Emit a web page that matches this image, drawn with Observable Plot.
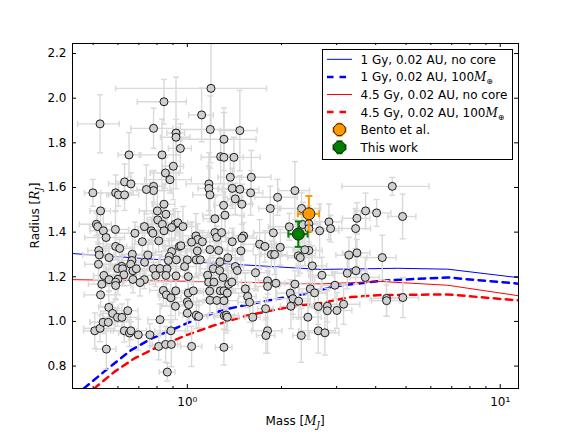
<!DOCTYPE html>
<html><head><meta charset="utf-8">
<script src="https://cdn.jsdelivr.net/npm/d3@7"></script>
<script src="https://cdn.jsdelivr.net/npm/@observablehq/plot@0.6"></script>
<style>body{margin:0;background:#fff}#chart{width:576px;height:432px}</style>
</head><body><div id="chart"></div>
<script>
// Known planets: mass [M_J], radius [R_J] and their errors
const mass = [
0.526,0.842,1.190,1.111,1.184,1.472,0.780,0.920,0.920,1.309,
0.950,0.651,0.830,1.278,1.309,1.409,0.902,0.851,0.880,1.372,
1.601,0.630,0.660,1.172,1.172,0.780,0.780,0.740,0.499,0.590,
0.602,0.630,1.181,1.392,1.472,1.593,1.943,2.207,1.423,1.494,
1.306,1.319,1.841,2.318,0.842,0.854,0.802,0.804,0.832,0.913,
0.933,0.968,0.891,0.528,0.512,0.517,0.539,0.550,0.589,0.680,
0.729,0.767,0.776,0.810,0.718,0.590,0.608,0.521,0.523,0.562,
0.748,0.667,0.665,0.659,0.617,0.599,0.621,0.520,0.541,0.670,
0.670,0.627,0.600,0.729,0.706,0.562,0.590,0.533,0.590,0.528,
0.561,0.577,0.598,0.618,0.645,0.506,0.526,0.538,0.559,0.551,
0.629,0.653,0.660,0.697,0.759,0.810,0.852,0.889,0.886,0.818,
0.916,1.000,1.000,1.032,1.068,1.087,0.863,0.687,0.730,0.779,
0.792,0.818,0.861,0.838,0.857,0.918,0.886,1.007,1.010,1.045,
1.068,1.076,1.065,1.079,1.117,1.100,1.032,1.000,0.943,0.920,
0.922,1.007,0.891,0.876,0.980,0.854,0.954,0.842,0.870,1.161,
1.170,1.178,1.211,1.216,1.181,1.181,1.225,1.225,1.259,1.241,
1.287,1.271,1.268,1.275,1.243,1.309,1.309,1.313,1.332,1.342,
1.355,1.300,1.348,1.392,1.423,1.444,1.483,1.513,1.494,1.388,
1.309,1.342,1.532,1.559,1.581,1.620,1.653,1.702,1.770,1.805,
1.805,1.779,1.805,1.783,1.883,1.855,1.901,1.919,1.982,2.133,
2.143,2.175,2.268,2.207,2.263,2.296,2.313,2.428,2.471,2.508,
2.551,2.621,2.621,2.647,2.446,2.375,2.118,2.341,2.446,4.519,
3.713,4.026,4.875,3.483,2.835,2.870,3.450,2.446,3.483,3.284,
4.198,3.457,3.245,2.692,3.705,2.962,2.802,2.802,3.006,3.158,
4.333,4.333,4.885,2.752];
const radius = [
1.885,1.984,2.044,1.925,1.860,1.855,1.865,1.844,1.825,1.816,
1.775,1.746,1.746,1.738,1.735,1.735,1.695,1.665,1.635,1.646,
1.646,1.625,1.616,1.616,1.596,1.605,1.586,1.591,1.576,1.576,
1.567,1.567,1.567,1.596,1.592,1.576,1.556,1.586,1.549,1.525,
1.520,1.476,1.506,1.506,1.525,1.480,1.495,1.455,1.435,1.435,
1.442,1.425,1.421,1.495,1.435,1.425,1.406,1.376,1.412,1.395,
1.425,1.406,1.395,1.361,1.357,1.336,1.327,1.318,1.298,1.286,
1.297,1.301,1.273,1.256,1.247,1.237,1.236,1.256,1.206,1.227,
1.188,1.209,1.189,1.187,1.174,1.187,1.176,1.167,1.161,1.119,
1.063,1.036,1.018,1.018,1.048,0.958,0.969,0.996,0.996,0.876,
0.958,0.948,0.958,0.940,0.940,0.888,0.897,0.897,0.958,1.008,
1.068,1.088,1.037,0.888,1.028,1.022,0.773,1.236,1.265,1.236,
1.206,1.237,1.236,1.139,1.119,1.137,1.106,1.127,1.075,1.137,
1.276,1.316,1.383,1.367,1.357,1.276,1.355,1.276,1.336,1.204,
1.276,1.201,1.313,1.291,1.246,1.206,1.339,1.406,1.273,1.207,
1.176,1.136,1.236,1.176,1.095,1.322,1.460,1.398,1.318,1.377,
1.398,1.267,1.228,1.137,1.094,1.137,1.093,1.026,1.028,1.127,
1.166,1.197,1.285,1.357,1.246,1.228,1.316,1.383,1.373,1.176,
0.884,1.019,1.146,1.112,1.086,1.019,1.218,1.346,1.336,1.182,
1.157,1.057,0.958,0.937,1.397,1.300,1.300,1.171,1.332,1.127,
1.068,1.102,1.091,1.167,1.294,1.286,0.937,1.019,1.146,1.249,
1.128,0.958,1.067,1.406,1.318,1.321,1.424,1.434,1.437,1.605,
1.495,1.486,1.470,1.462,1.446,1.416,1.416,1.416,1.307,1.297,
1.286,1.227,1.216,1.207,1.197,1.162,1.068,1.048,1.049,1.077,
1.103,1.093,1.107,0.949];
const massErr = [
0.08,0.15,0.60,0.10,0.25,0.20,0.12,0.06,0.10,0.35,
0.08,0.05,0.12,0.10,0.20,0.30,0.07,0.09,0.15,0.12,
0.25,0.04,0.10,0.18,0.09,0.06,0.11,0.05,0.03,0.08,
0.05,0.07,0.14,0.10,0.22,0.15,0.30,0.25,0.08,0.12,
0.09,0.20,0.15,0.35,0.07,0.05,0.10,0.06,0.08,0.12,
0.07,0.10,0.05,0.04,0.06,0.03,0.05,0.08,0.06,0.09,
0.05,0.07,0.10,0.06,0.04,0.05,0.07,0.04,0.06,0.03,
0.08,0.05,0.06,0.09,0.04,0.05,0.07,0.05,0.04,0.06,
0.05,0.08,0.04,0.07,0.05,0.06,0.03,0.05,0.07,0.06,
0.04,0.05,0.06,0.08,0.05,0.04,0.06,0.05,0.07,0.04,
0.06,0.05,0.08,0.07,0.06,0.05,0.08,0.06,0.10,0.07,
0.09,0.12,0.06,0.08,0.10,0.07,0.05,0.06,0.08,0.05,
0.07,0.06,0.09,0.08,0.05,0.10,0.07,0.12,0.08,0.06,
0.10,0.09,0.15,0.07,0.12,0.08,0.06,0.11,0.09,0.07,
0.05,0.08,0.10,0.06,0.09,0.07,0.12,0.08,0.06,0.10,
0.14,0.09,0.12,0.08,0.11,0.16,0.10,0.13,0.20,0.09,
0.12,0.10,0.08,0.15,0.11,0.09,0.14,0.10,0.12,0.18,
0.10,0.13,0.16,0.12,0.09,0.20,0.14,0.11,0.17,0.10,
0.08,0.12,0.15,0.10,0.13,0.09,0.18,0.22,0.14,0.12,
0.16,0.10,0.20,0.12,0.25,0.15,0.18,0.13,0.30,0.20,
0.16,0.25,0.18,0.22,0.30,0.20,0.14,0.25,0.19,0.28,
0.22,0.35,0.18,0.40,0.25,0.20,0.30,0.26,0.22,1.40,
0.30,0.45,0.50,0.35,0.28,0.25,0.40,0.22,0.35,0.30,
0.45,0.30,0.35,0.25,0.40,0.28,0.30,0.22,0.35,0.40,
0.50,0.45,0.60,0.30];
const radiusErr = [
0.13,0.10,0.20,0.12,0.15,0.18,0.09,0.25,0.08,0.14,
0.11,0.10,0.16,0.12,0.20,0.09,0.15,0.07,0.06,0.10,
0.12,0.08,0.05,0.14,0.10,0.07,0.09,0.11,0.06,0.08,
0.05,0.07,0.12,0.09,0.06,0.10,0.08,0.13,0.07,0.09,
0.06,0.08,0.10,0.07,0.09,0.05,0.11,0.06,0.08,0.07,
0.05,0.09,0.06,0.08,0.05,0.07,0.10,0.06,0.08,0.05,
0.07,0.06,0.09,0.05,0.08,0.06,0.04,0.07,0.05,0.06,
0.05,0.08,0.06,0.04,0.07,0.05,0.06,0.09,0.05,0.04,
0.06,0.05,0.07,0.04,0.06,0.05,0.08,0.04,0.06,0.05,
0.07,0.05,0.04,0.06,0.05,0.08,0.06,0.05,0.04,0.09,
0.05,0.06,0.04,0.07,0.05,0.06,0.08,0.10,0.05,0.07,
0.06,0.05,0.08,0.09,0.06,0.05,0.04,0.06,0.05,0.07,
0.05,0.06,0.04,0.07,0.05,0.06,0.08,0.05,0.07,0.06,
0.08,0.06,0.10,0.07,0.05,0.06,0.09,0.05,0.07,0.06,
0.05,0.07,0.06,0.08,0.05,0.06,0.07,0.09,0.05,0.06,
0.07,0.05,0.06,0.08,0.06,0.07,0.10,0.06,0.08,0.05,
0.07,0.06,0.05,0.08,0.06,0.07,0.05,0.06,0.08,0.06,
0.05,0.07,0.09,0.06,0.08,0.05,0.07,0.06,0.10,0.05,
0.08,0.06,0.07,0.05,0.09,0.06,0.08,0.11,0.07,0.06,
0.07,0.05,0.10,0.08,0.12,0.06,0.09,0.07,0.08,0.06,
0.10,0.07,0.08,0.06,0.09,0.07,0.12,0.10,0.08,0.09,
0.07,0.10,0.08,0.12,0.09,0.07,0.06,0.10,0.08,0.04,
0.08,0.06,0.10,0.07,0.08,0.06,0.09,0.07,0.06,0.08,
0.10,0.06,0.07,0.08,0.09,0.06,0.07,0.10,0.08,0.09,
0.08,0.07,0.09,0.10];

// Model curves
const m1GyNoCore = [0.43, 1.0, 2.67, 4.7, 6.8, 11.44];
const r1GyNoCore = [1.304, 1.268, 1.233, 1.238, 1.234, 1.196];
const m1GyCore = [0.467, 0.542, 0.659, 0.764, 0.906, 1.103, 1.342, 1.629, 2.0, 2.5, 2.94, 4.25, 6.77, 11.44];
const r1GyCore = [0.70, 0.775, 0.87, 0.922, 0.966, 1.019, 1.056, 1.081, 1.105, 1.128, 1.157, 1.183, 1.197, 1.169];
const m45GyNoCore = [0.43, 1.0, 2.67, 4.14, 6.8, 11.44];
const r45GyNoCore = [1.187, 1.180, 1.168, 1.179, 1.162, 1.115];
const m45GyCore = [0.503, 0.583, 0.675, 0.802, 1.0, 1.216, 1.555, 1.987, 2.30, 2.67, 3.32, 4.14, 6.77, 11.44];
const r45GyCore = [0.699, 0.773, 0.833, 0.885, 0.940, 0.982, 1.027, 1.057, 1.072, 1.082, 1.109, 1.118, 1.121, 1.094];

// Highlighted: Bento et al. and This work
const bentoMass = [2.446], bentoRadius = [1.482], bentoMassErr = [0.19], bentoRadiusErr = [0.08];
const thisMass = [2.263], thisRadius = [1.391], thisMassErr = [0.16], thisRadiusErr = [0.057];

const xMajor = [1, 10];
const xMinor = [0.5, 0.6, 0.7, 0.8, 0.9, 2, 3, 4, 5, 6, 7, 8, 9];
const yTicks = [0.8, 1.0, 1.2, 1.4, 1.6, 1.8, 2.0, 2.2];
const xTickLabels = ["10⁰", "10¹"];
const legendLabels = ["1 Gy, 0.02 AU, no core", "1 Gy, 0.02 AU, 100", "4.5 Gy, 0.02 AU, no core", "4.5 Gy, 0.02 AU, 100", "Bento et al.", "This work"];

const W = 576, H = 432, ML = 72, MR = 58, MT = 43, MB = 44;
const PW = W - ML - MR, PH = H - MT - MB;

const pts = mass.map((m, i) => ({m, r: radius[i], me: massErr[i], re: radiusErr[i]}));
const bento = bentoMass.map((m, i) => ({m, r: bentoRadius[i], me: bentoMassErr[i], re: bentoRadiusErr[i]}));
const mine = thisMass.map((m, i) => ({m, r: thisRadius[i], me: thisMassErr[i], re: thisRadiusErr[i]}));

const capH = {draw(ctx, size) { const w = Math.sqrt(size / Math.PI); ctx.moveTo(-w, 0); ctx.lineTo(w, 0); }};
const capV = {draw(ctx, size) { const w = Math.sqrt(size / Math.PI); ctx.moveTo(0, -w); ctx.lineTo(0, w); }};

function errorMarks(data, color, sw, cap) {
  const o = {stroke: color, strokeWidth: sw, clip: true};
  return [
    Plot.ruleY(data, {y: "r", x1: d => d.m - d.me, x2: d => d.m + d.me, ...o}),
    Plot.ruleX(data, {x: "m", y1: d => d.r - d.re, y2: d => d.r + d.re, ...o}),
    Plot.dot(data, {x: d => d.m - d.me, y: "r", symbol: capV, r: cap, fill: "none", ...o}),
    Plot.dot(data, {x: d => d.m + d.me, y: "r", symbol: capV, r: cap, fill: "none", ...o}),
    Plot.dot(data, {x: "m", y: d => d.r - d.re, symbol: capH, r: cap, fill: "none", ...o}),
    Plot.dot(data, {x: "m", y: d => d.r + d.re, symbol: capH, r: cap, fill: "none", ...o})
  ];
}
const zipLine = (ms, rs) => ms.map((m, i) => [m, rs[i]]);
const ORANGE = "#ff9900", GREEN = "#008000";

const svg = Plot.plot({
  width: W, height: H, marginLeft: ML, marginRight: MR, marginTop: MT, marginBottom: MB,
  style: {fontFamily: "DejaVu Sans", fontSize: "12px", background: "white", color: "black"},
  x: {type: "log", domain: [0.4295, 11.44]},
  y: {domain: [0.6995, 2.245]},
  marks: [
    Plot.line(zipLine(m1GyNoCore, r1GyNoCore), {stroke: "#0000ff", strokeWidth: 1, clip: true}),
    Plot.line(zipLine(m1GyCore, r1GyCore), {stroke: "#0000ff", strokeWidth: 2.5, strokeDasharray: "6.5,5.5", clip: true}),
    Plot.line(zipLine(m45GyNoCore, r45GyNoCore), {stroke: "#ff0000", strokeWidth: 1, clip: true}),
    Plot.line(zipLine(m45GyCore, r45GyCore), {stroke: "#ff0000", strokeWidth: 2.5, strokeDasharray: "6.5,5.5", clip: true}),
    ...errorMarks(pts, "#d9d9d9", 1.4, 3),
    Plot.dot(pts, {x: "m", y: "r", r: 4, fill: "#d0d0d0", stroke: "#1a1a1a", strokeWidth: 1, clip: true}),
    ...errorMarks(bento, ORANGE, 2, 3.5),
    Plot.dot(bento, {x: "m", y: "r", r: 6, fill: ORANGE, stroke: "#1a1a1a", strokeWidth: 1}),
    ...errorMarks(mine, GREEN, 2, 3.5),
    Plot.dot(mine, {x: "m", y: "r", r: 6, fill: GREEN, stroke: "#1a1a1a", strokeWidth: 1}),
    Plot.frame({stroke: "black", strokeWidth: 1}),
    Plot.tickX(xMajor, {x: d => d, insetTop: PH - 4, stroke: "black"}),
    Plot.tickX(xMajor, {x: d => d, insetBottom: PH - 4, stroke: "black"}),
    Plot.tickX(xMinor, {x: d => d, insetTop: PH - 2, stroke: "black"}),
    Plot.tickX(xMinor, {x: d => d, insetBottom: PH - 2, stroke: "black"}),
    Plot.tickY(yTicks, {y: d => d, insetRight: PW - 4, stroke: "black"}),
    Plot.tickY(yTicks, {y: d => d, insetLeft: PW - 4, stroke: "black"}),
    Plot.axisX({ticks: xMajor, tickSize: 0, tickPadding: 9, tickFormat: (d, i) => xTickLabels[xMajor.indexOf(d)], label: null, fontSize: 12}),
    Plot.axisY({ticks: yTicks, tickSize: 0, tickPadding: 6, tickFormat: d3.format(".1f"), label: null, fontSize: 12})
  ]
});

const s = d3.select(svg);
// axis labels
const xl = s.append("text").attr("x", ML + PW / 2).attr("y", 425).attr("text-anchor", "middle")
  .attr("font-family", "DejaVu Sans").attr("font-size", 12).attr("fill", "black");
xl.append("tspan").text("Mass [");
xl.append("tspan").attr("font-style", "italic").attr("font-family", "DejaVu Serif").text("M");
xl.append("tspan").attr("font-style", "italic").attr("font-family", "DejaVu Serif").attr("font-size", 8.5).attr("dy", 3).text("J");
xl.append("tspan").attr("dy", -3).text("]");

const yl = s.append("text").attr("transform", `translate(39,${MT + PH / 2}) rotate(-90)`).attr("text-anchor", "middle")
  .attr("font-family", "DejaVu Sans").attr("font-size", 12).attr("fill", "black");
yl.append("tspan").text("Radius [");
yl.append("tspan").attr("font-style", "italic").attr("font-family", "DejaVu Serif").text("R");
yl.append("tspan").attr("font-style", "italic").attr("font-family", "DejaVu Serif").attr("font-size", 8.5).attr("dy", 3).text("J");
yl.append("tspan").attr("dy", -3).text("]");

// legend
const lg = s.append("g").attr("font-family", "DejaVu Sans").attr("font-size", 12).attr("text-anchor", "start");
lg.append("rect").attr("x", 322.5).attr("y", 49.5).attr("width", 190).attr("height", 110)
  .attr("fill", "white").attr("stroke", "black").attr("stroke-width", 1);
const rowY = i => 59.3 + i * 17.6;
const lx1 = 327, lx2 = 352, lxc = (lx1 + lx2) / 2, tx = 360.5;
const styles = [
  {stroke: "#0000ff", w: 1, dash: null},
  {stroke: "#0000ff", w: 2.5, dash: "6.5,6"},
  {stroke: "#ff0000", w: 1, dash: null},
  {stroke: "#ff0000", w: 2.5, dash: "6.5,6"}
];
styles.forEach((st, i) => {
  const l = lg.append("line").attr("x1", lx1).attr("x2", lx2).attr("y1", rowY(i)).attr("y2", rowY(i))
    .attr("stroke", st.stroke).attr("stroke-width", st.w);
  if (st.dash) l.attr("stroke-dasharray", st.dash);
});
legendLabels.forEach((lab, i) => {
  const t = lg.append("text").attr("x", tx).attr("y", rowY(i) + 4.5).attr("fill", "black").attr("text-anchor", "start");
  t.append("tspan").text(lab);
  if (i === 1 || i === 3) {
    t.append("tspan").attr("font-style", "italic").attr("font-family", "DejaVu Serif").text("M");
    t.append("tspan").attr("font-size", 8).attr("dy", 3).text("⊕");
  }
});
[[ORANGE, 4], [GREEN, 5]].forEach(([c, i]) => {
  const y = rowY(i);
  const g = lg.append("g").attr("stroke", c).attr("stroke-width", 2);
  g.append("line").attr("x1", lxc - 6).attr("x2", lxc + 6).attr("y1", y).attr("y2", y);
  g.append("line").attr("x1", lxc).attr("x2", lxc).attr("y1", y - 6).attr("y2", y + 6);
  g.append("line").attr("x1", lxc - 6).attr("x2", lxc - 6).attr("y1", y - 3).attr("y2", y + 3);
  g.append("line").attr("x1", lxc + 6).attr("x2", lxc + 6).attr("y1", y - 3).attr("y2", y + 3);
  g.append("line").attr("x1", lxc - 3).attr("x2", lxc + 3).attr("y1", y - 6).attr("y2", y - 6);
  g.append("line").attr("x1", lxc - 3).attr("x2", lxc + 3).attr("y1", y + 6).attr("y2", y + 6);
  lg.append("circle").attr("cx", lxc).attr("cy", y).attr("r", 6).attr("fill", c).attr("stroke", "#1a1a1a");
});

document.getElementById("chart").appendChild(svg);
</script>
</body></html>
